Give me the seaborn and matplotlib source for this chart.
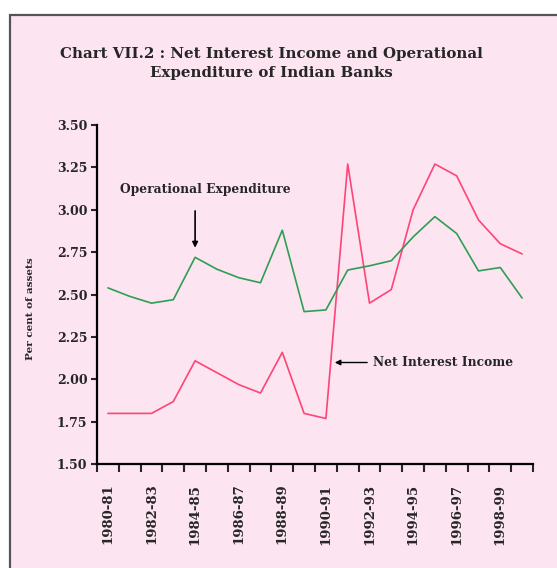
import pandas as pd
import matplotlib
matplotlib.use("Agg")
import matplotlib.pyplot as plt
from matplotlib.patches import Rectangle
import seaborn as sns

years = ["1980-81", "1981-82", "1982-83", "1983-84", "1984-85", "1985-86", "1986-87",
         "1987-88", "1988-89", "1989-90", "1990-91", "1991-92", "1992-93", "1993-94",
         "1994-95", "1995-96", "1996-97", "1997-98", "1998-99", "1999-00"]
net_interest = [1.80, 1.80, 1.80, 1.87, 2.11, 2.04, 1.97, 1.92, 2.16, 1.80,
                1.77, 3.27, 2.45, 2.53, 3.00, 3.27, 3.20, 2.94, 2.80, 2.74]
op_expenditure = [2.54, 2.49, 2.45, 2.47, 2.72, 2.65, 2.60, 2.57, 2.88, 2.40,
                  2.41, 2.645, 2.67, 2.70, 2.84, 2.96, 2.86, 2.64, 2.66, 2.48]
y_ticks = [1.50, 1.75, 2.00, 2.25, 2.50, 2.75, 3.00, 3.25, 3.50]

df = pd.DataFrame({
    "idx": list(range(len(years))) * 2,
    "value": net_interest + op_expenditure,
    "series": ["Net Interest Income"] * len(years) + ["Operational Expenditure"] * len(years),
})

sns.set_style("ticks")
plt.rcParams["font.family"] = ["DejaVu Serif"]
plt.rcParams["font.weight"] = "bold"

fig = plt.figure(figsize=(5.57, 5.68), dpi=100, facecolor="white")
# pink panel with grey frame, drawn behind the axes
fig.patches.append(Rectangle((10 / 557, -0.1), 1.2, 1 - 15 / 568 + 0.1, transform=fig.transFigure,
                             facecolor="#fce4f1", edgecolor="#555555", linewidth=1.6, zorder=-10))

ax = fig.add_axes([97 / 557, 1 - 464.3 / 568, 436 / 557, 339.3 / 568])
ax.set_facecolor("none")

sns.lineplot(data=df, x="idx", y="value", hue="series",
             palette={"Net Interest Income": "#ff4477", "Operational Expenditure": "#2f9e55"},
             linewidth=1.2, legend=False, ax=ax)

ax.set_xlim(-0.5, len(years) - 0.5)
ax.set_ylim(1.50, 3.50)
ax.set_yticks(y_ticks)
ax.set_yticklabels([f"{v:.2f}" for v in y_ticks], fontsize=9, fontweight="bold")

ax.set_xticks([i - 0.5 for i in range(len(years) + 1)])
ax.set_xticklabels([])
ax.set_xticks(list(range(0, len(years), 2)), minor=True)
ax.set_xticklabels(years[::2], minor=True, rotation=90, fontsize=9.5, fontweight="bold")
ax.tick_params(axis="x", which="major", length=6, width=1.5, direction="out")
ax.tick_params(axis="x", which="minor", length=0, pad=14)
ax.tick_params(axis="y", length=4, width=1.5, pad=3)

sns.despine(ax=ax)
for s in ["left", "bottom"]:
    ax.spines[s].set_linewidth(1.6)
    ax.spines[s].set_color("black")

ax.set_xlabel("")
ax.set_ylabel("Per cent of assets", fontsize=7.5, fontweight="bold")
ax.yaxis.set_label_coords(-0.143, 0.46)

fig.text(0.4865, 1 - 54 / 568, "Chart VII.2 : Net Interest Income and Operational",
         ha="center", va="center", fontsize=10.8, fontweight="bold")
fig.text(0.4865, 1 - 73 / 568, "Expenditure of Indian Banks",
         ha="center", va="center", fontsize=10.8, fontweight="bold")

ax.annotate("Operational Expenditure", xy=(4, 2.72), xytext=(0.55, 3.12),
            fontsize=8.8, fontweight="bold", va="center")
ax.annotate("", xy=(4.0, 2.76), xytext=(4.0, 3.01),
            arrowprops=dict(arrowstyle="-|>", color="black", lw=1.2, mutation_scale=8))
ax.annotate("Net Interest Income", xy=(10.28, 2.10), xytext=(12.17, 2.10),
            fontsize=8.8, fontweight="bold", va="center",
            arrowprops=dict(arrowstyle="-|>", color="black", lw=1.0, mutation_scale=8))

fig.savefig("out.png", dpi=100)
